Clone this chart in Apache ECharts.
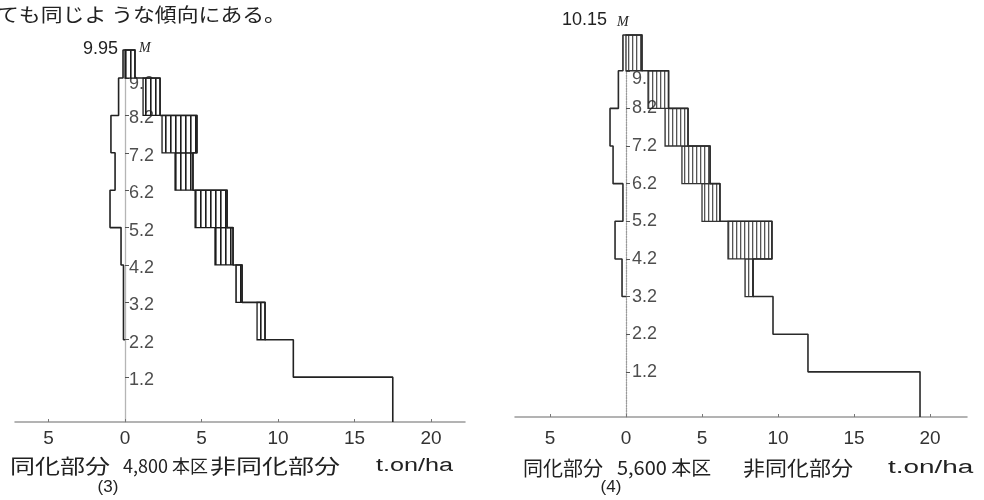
<!DOCTYPE html>
<html>
<head>
<meta charset="utf-8">
<script src="https://cdn.jsdelivr.net/npm/echarts@6/dist/echarts.min.js"></script>
<style>
  html, body { margin: 0; padding: 0; background: #fff; }
  #chart { width: 984px; height: 500px; }
</style>
</head>
<body>
<div id="chart"></div>
<script>
// Layer boundaries (m above ground), bottom to top
const bounds3 = [0, 1.2, 2.2, 3.2, 4.2, 5.2, 6.2, 7.2, 8.2, 9.2, 9.95];
const bounds4 = [0, 1.2, 2.2, 3.2, 4.2, 5.2, 6.2, 7.2, 8.2, 9.2, 10.15];

// Plot (3) 4,800 trees: assimilating part (left), stem and stem+branch (right), t/ha per layer
const assim3 = [0, 0, 0.1, 0.1, 0.26, 0.98, 0.65, 0.92, 0.42, 0.13];
const stem3  = [17.5, 11.0, 8.63, 7.25, 5.88, 4.58, 3.27, 2.42, 1.18, 0];
const total3 = [17.5, 11.0, 9.15, 7.65, 7.06, 6.67, 4.44, 4.7, 2.29, 0.65];

// Plot (4) 5,600 trees
const assim4 = [0, 0, 0, 0.26, 0.72, 0.2, 0.85, 1.05, 0.5, 0.2];
const stem4  = [19.34, 11.97, 9.67, 7.83, 6.71, 5.0, 3.68, 2.57, 1.45, 0];
const total4 = [19.34, 11.97, 9.67, 8.36, 9.6, 6.18, 5.53, 4.08, 2.8, 1.05];

// Height labels beside the vertical axis and weight ticks on the horizontal axis
const heightTicks = [1.2, 2.2, 3.2, 4.2, 5.2, 6.2, 7.2, 8.2, 9.2];
const heightLabels = ['1.2', '2.2', '3.2', '4.2', '5.2', '6.2', '7.2', '8.2', '9.2'];
const weightTicks = [-5, 0, 5, 10, 15, 20];

const numFont = '"Liberation Sans", Arial, sans-serif';
const jpFont = '"Noto Sans CJK JP", sans-serif';

function stripes(color, gap, w) {
  const c = document.createElement('canvas');
  c.width = gap; c.height = 4;
  const g = c.getContext('2d');
  g.fillStyle = '#fff'; g.fillRect(0, 0, gap, 4);
  g.fillStyle = color; g.fillRect(0, 0, w, 4);
  return c;
}

// Outline: right staircase from the ground up, across the top, down the left side
function envelope(bounds, assim, total) {
  const n = total.length;
  const pts = [[total[0], bounds[0]]];
  for (let i = 0; i < n; i++) {
    pts.push([total[i], bounds[i + 1]]);
    if (i < n - 1) pts.push([total[i + 1], bounds[i + 1]]);
  }
  pts.push([-assim[n - 1], bounds[n]]);
  for (let i = n - 1; i >= 0; i--) {
    pts.push([-assim[i], bounds[i]]);
    const next = i > 0 ? assim[i - 1] : 0;
    pts.push([-next, bounds[i]]);
    if (next <= 0) break;
  }
  return pts;
}

function hatchData(bounds, stem, total) {
  const out = [];
  for (let i = 0; i < total.length; i++) {
    if (total[i] > stem[i]) out.push([stem[i], total[i], bounds[i], bounds[i + 1]]);
  }
  return out;
}

function hatchSeries(idx, data, pattern, stroke) {
  return {
    type: 'custom', xAxisIndex: idx, yAxisIndex: idx, z: 2, silent: true,
    encode: { x: [0, 1], y: [2, 3] },
    data: data,
    renderItem: function (params, api) {
      const a = api.coord([api.value(0), api.value(3)]);
      const b = api.coord([api.value(1), api.value(2)]);
      return {
        type: 'rect',
        shape: { x: a[0], y: a[1], width: b[0] - a[0], height: b[1] - a[1] },
        style: { fill: { image: pattern, repeat: 'repeat' }, stroke: stroke, lineWidth: 1.3 }
      };
    }
  };
}

function outlineSeries(idx, pts, color) {
  return {
    type: 'line', xAxisIndex: idx, yAxisIndex: idx, z: 3, silent: true,
    data: pts, showSymbol: false, symbol: 'none', clip: false,
    lineStyle: { color: color, width: 1.6 }
  };
}

// Height labels sit just right of the trunk axis. The lower ones print over
// the boxes; the uppermost drops into its layer and lies under the hatching.
function heightLabelSeries(idx, from, to, dy, z, dist) {
  const items = [];
  for (let i = from; i < to; i++) {
    items.push({ value: [0, heightTicks[i]], label: { formatter: heightLabels[i] } });
  }
  return {
    type: 'scatter', xAxisIndex: idx, yAxisIndex: idx, z: z, silent: true,
    symbolSize: 0,
    data: items,
    label: {
      show: true, position: 'right', distance: dist, offset: [0, dy],
      fontFamily: numFont, fontSize: 18, color: '#222'
    }
  };
}

function xAxisFor(idx, min, max, margin) {
  return {
    type: 'value', gridIndex: idx, min: min, max: max,
    axisLine: { show: true, lineStyle: { color: '#9a9a9a', width: 1.5 } },
    axisTick: { show: true, inside: true, length: 3, customValues: weightTicks, lineStyle: { color: '#777' } },
    axisLabel: {
      customValues: weightTicks, margin: margin,
      formatter: v => String(Math.abs(v)),
      fontFamily: numFont, fontSize: 19, color: '#333'
    },
    splitLine: { show: false }
  };
}

function yAxisFor(idx, top, lineColor, lineType) {
  return {
    type: 'value', gridIndex: idx, min: 0, max: top,
    axisLine: { show: true, onZero: true, lineStyle: { color: lineColor, width: 1.3, type: lineType } },
    axisTick: { show: true, inside: true, length: 4, customValues: heightTicks, lineStyle: { color: '#555' } },
    axisLabel: { show: false },
    splitLine: { show: false }
  };
}

function txt(x, y, text, font, opts) {
  opts = opts || {};
  return {
    type: 'text', x: x, y: y, scaleX: opts.sx || 1, silent: true,
    style: { text: text, font: font, fill: opts.fill || '#222', align: opts.align || 'left', verticalAlign: 'middle' }
  };
}

const chart = echarts.init(document.getElementById('chart'), null, { renderer: 'canvas' });

const pat3 = stripes('#1c1c1c', 5, 1.6);
const pat4 = stripes('#555', 4, 1.3);
const nLab = heightTicks.length;

chart.setOption({
  backgroundColor: '#fff',
  animation: false,
  grid: [
    { left: 15, top: 50, width: 450, height: 372 },
    { left: 515, top: 35, width: 452, height: 382 }
  ],
  xAxis: [
    xAxisFor(0, -7.19, 22.22, 7),
    xAxisFor(1, -7.30, 22.43, 12)
  ],
  yAxis: [
    yAxisFor(0, bounds3[bounds3.length - 1], '#b5b5b5', 'solid'),
    yAxisFor(1, bounds4[bounds4.length - 1], '#9a9a9a', 'dotted')
  ],
  series: [
    heightLabelSeries(0, nLab - 1, nLab, 6, 1, 4),
    hatchSeries(0, hatchData(bounds3, stem3, total3), pat3, '#1a1a1a'),
    heightLabelSeries(0, 0, nLab - 1, 3, 2.5, 4),
    outlineSeries(0, envelope(bounds3, assim3, total3), '#222'),
    heightLabelSeries(1, nLab - 1, nLab, 8, 1, 6),
    hatchSeries(1, hatchData(bounds4, stem4, total4), pat4, '#333'),
    heightLabelSeries(1, 0, nLab - 1, 0, 2.5, 6),
    outlineSeries(1, envelope(bounds4, assim4, total4), '#2a2a2a')
  ],
  graphic: [
    txt(-3, 15, 'ても同じよ うな傾向にある。', '19px ' + jpFont, { sx: 1.15 }),

    txt(118, 49, String(bounds3[bounds3.length - 1]), '18px ' + numFont, { align: 'right' }),
    txt(139, 48, 'M', 'italic 14px "Liberation Serif", serif'),
    txt(10, 466, '同化部分', '20px ' + jpFont, { sx: 1.25 }),
    txt(123, 466, '4,800 本区', '18px ' + jpFont, { sx: 1.0 }),
    txt(210, 466, '非同化部分', '20px ' + jpFont, { sx: 1.3 }),
    txt(376, 466, 't.on/ha', '18px ' + numFont, { sx: 1.4 }),
    txt(108, 487, '(3)', '17px ' + numFont, { align: 'center' }),

    txt(607, 20, String(bounds4[bounds4.length - 1]), '18px ' + numFont, { align: 'right' }),
    txt(617, 22, 'M', 'italic 14px "Liberation Serif", serif'),
    txt(523, 468, '同化部分', '20px ' + jpFont, { sx: 1.0 }),
    txt(617, 468, '5,600 本区', '19px ' + jpFont, { sx: 1.05 }),
    txt(743, 468, '非同化部分', '20px ' + jpFont, { sx: 1.1 }),
    txt(888, 468, 't.on/ha', '18px ' + numFont, { sx: 1.55 }),
    txt(611, 487, '(4)', '17px ' + numFont, { align: 'center' })
  ]
});
</script>
</body>
</html>
